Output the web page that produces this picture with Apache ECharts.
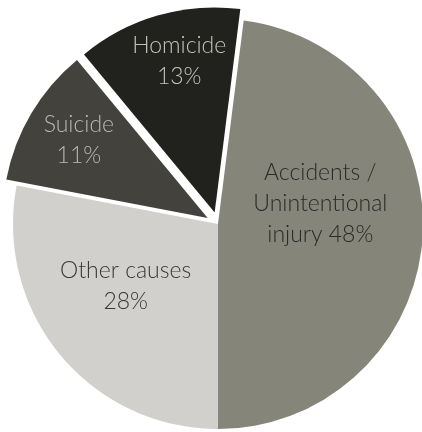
<!DOCTYPE html>
<html>
<head>
<meta charset="utf-8">
<style>
  html, body { margin: 0; padding: 0; background: #ffffff; }
  #chart { width: 422px; height: 432px; }
</style>
<script src="https://cdn.jsdelivr.net/npm/echarts@6/dist/echarts.min.js"></script>
</head>
<body>
<div id="chart"></div>
<script>
// Causes of death, share in percent
const causes = ['Accidents /\nUnintentional\ninjury', 'Other causes', 'Suicide', 'Homicide'];
const shares = [48, 28, 11, 13];
const pulledOut = [false, false, true, true];

const sliceColors = ['#86857a', '#d1d0cc', '#43423d', '#21211d'];
const labelColors = ['#2a2a27', '#383834', '#b9b8b3', '#c4c3be'];
// label nudges relative to the default inner position
const labelShift = [[-3, -27], [-11, -5], [-38, -24], [-6, -50]];

const chart = echarts.init(document.getElementById('chart'), null, { renderer: 'canvas' });

chart.setOption({
  animation: false,
  backgroundColor: '#ffffff',
  series: [{
    type: 'pie',
    center: [218, 224],
    radius: [0, 205],
    startAngle: 82.8,
    clockwise: true,
    avoidLabelOverlap: false,
    selectedMode: 'multiple',
    selectedOffset: 12,
    emphasis: { scale: false, disabled: true },
    itemStyle: { borderWidth: 0 },
    label: {
      show: true,
      position: 'inside',
      fontFamily: 'Lato, "Open Sans", sans-serif',
      fontWeight: 300,
      fontSize: 23,
      lineHeight: 31,
      align: 'center',
      formatter: p => {
        const sep = p.dataIndex === 0 ? ' ' : '\n';
        return p.name + sep + p.value + '%';
      }
    },
    labelLine: { show: false },
    labelLayout: p => ({ dx: labelShift[p.dataIndex][0], dy: labelShift[p.dataIndex][1] }),
    data: causes.map((name, i) => ({
      name: name,
      value: shares[i],
      selected: pulledOut[i],
      itemStyle: { color: sliceColors[i] },
      label: { color: labelColors[i] },
      select: { itemStyle: { color: sliceColors[i] }, label: { color: labelColors[i] } }
    }))
  }]
});
</script>
</body>
</html>
